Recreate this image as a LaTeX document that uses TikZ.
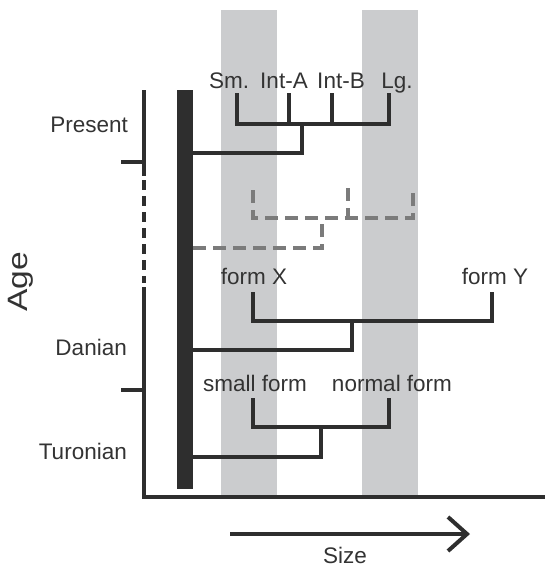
\documentclass[tikz,border=0pt]{standalone}
\usepackage{fontspec}
\setmainfont{Liberation Sans}
\definecolor{band}{HTML}{CBCCCE}
\definecolor{ink}{HTML}{2E2E2E}
\definecolor{dgray}{HTML}{7B7B7B}
\definecolor{txt}{HTML}{333333}
\begin{document}
\begin{tikzpicture}[x=1pt,y=-1pt,
  tree/.style={draw=ink,line width=4.5pt},
  dtree/.style={draw=dgray,line width=4.5pt,dash pattern=on 13pt off 7pt},
  axisline/.style={draw=ink,line width=4pt},
  lbl/.style={text=txt,font=\fontsize{22.5}{27}\selectfont,inner sep=0pt,anchor=base},
  llbl/.style={lbl,anchor=base east}]
\useasboundingbox (0,0) rectangle (545,568);
% bands
\fill[band] (221,10) rectangle (277,497);
\fill[band] (362,10) rectangle (418,497);
% axes
\coordinate (ytop) at (144,90);
\coordinate (ybrk1) at (144,176);
\coordinate (ydash1) at (144,180);
\coordinate (ydash2) at (144,283);
\coordinate (ybrk2) at (144,287);
\coordinate (origin) at (144,497);
\coordinate (xend) at (545,497);
\coordinate (t1a) at (121,162);
\coordinate (t1b) at (144,162);
\coordinate (t2a) at (121,390);
\coordinate (t2b) at (144,390);
\draw[axisline] (ytop) -- (ybrk1);
\draw[axisline,dash pattern=on 10pt off 6pt] (ydash1) -- (ydash2);
\draw[axisline] (ybrk2) -- (origin) -- (xend);
\draw[axisline] (t1a) -- (t1b);
\draw[axisline] (t2a) -- (t2b);
% thick bar
\fill[ink] (177,90) rectangle (193,489);
% present tree
\coordinate (sm) at (237,93);
\coordinate (ia) at (289,93);
\coordinate (ib) at (332,93);
\coordinate (lg) at (389,93);
\coordinate (smj) at (237,124);
\coordinate (iaj) at (289,124);
\coordinate (ibj) at (332,124);
\coordinate (lgj) at (389,124);
\coordinate (pj) at (302,124);
\coordinate (pr) at (302,153);
\coordinate (pb) at (193,153);
\draw[tree] (sm) -- (smj) -- (lgj) -- (lg);
\draw[tree] (ia) -- (iaj);
\draw[tree] (ib) -- (ibj);
\draw[tree] (pj) -- (pr) -- (pb);
\node[lbl] (tsm) at (229,88) {Sm.};
\node[lbl] (tia) at (284,88) {Int-A};
\node[lbl] (tib) at (341,88) {Int-B};
\node[lbl] (tlg) at (397,88) {Lg.};
% dashed tree
\coordinate (d1) at (253,190);
\coordinate (d1j) at (253,218);
\coordinate (d3) at (413,190);
\coordinate (d3j) at (413,218);
\coordinate (d2) at (348,188);
\coordinate (d2j) at (348,218);
\coordinate (dj) at (322,218);
\coordinate (dr) at (322,248);
\coordinate (db) at (193,248);
\draw[dtree] (d1) -- (d1j) -- (d3j) -- (d3);
\draw[dtree] (d2) -- (d2j);
\draw[dtree] (db) -- (dr) -- (dj);
% form X / Y tree
\coordinate (fx) at (253,292);
\coordinate (fxj) at (253,321);
\coordinate (fy) at (492,292);
\coordinate (fyj) at (492,321);
\coordinate (fj) at (352,321);
\coordinate (fr) at (352,350);
\coordinate (fb) at (193,350);
\draw[tree] (fx) -- (fxj) -- (fyj) -- (fy);
\draw[tree] (fj) -- (fr) -- (fb);
\node[lbl] (tfx) at (254,284) {form X};
\node[lbl] (tfy) at (495,284) {form Y};
% small / normal tree
\coordinate (sf) at (253,398);
\coordinate (sfj) at (253,427);
\coordinate (nf) at (389,398);
\coordinate (nfj) at (389,427);
\coordinate (sj) at (321,427);
\coordinate (sr) at (321,457);
\coordinate (sb) at (193,457);
\draw[tree] (sf) -- (sfj) -- (nfj) -- (nf);
\draw[tree] (sj) -- (sr) -- (sb);
\node[lbl] (tsf) at (255,391) {small form};
\node[lbl] (tnf) at (392,391) {normal form};
% age labels
\node[llbl] (tpres) at (128,132) {Present};
\node[llbl] (tdan) at (127,355) {Danian};
\node[llbl] (ttur) at (127,459) {Turonian};
\node[text=txt,font=\fontsize{28}{34}\selectfont,inner sep=0pt,rotate=90,xscale=1.2] (tage) at (21,282) {Age};
% size arrow
\coordinate (as) at (230,534);
\coordinate (ae) at (467,534);
\coordinate (ah1) at (448,517);
\coordinate (ah2) at (448,551);
\draw[axisline] (as) -- (ae);
\draw[axisline,line join=miter] (ah1) -- (ae) -- (ah2);
\node[lbl] (tsize) at (345,563) {Size};
\end{tikzpicture}
\end{document}
